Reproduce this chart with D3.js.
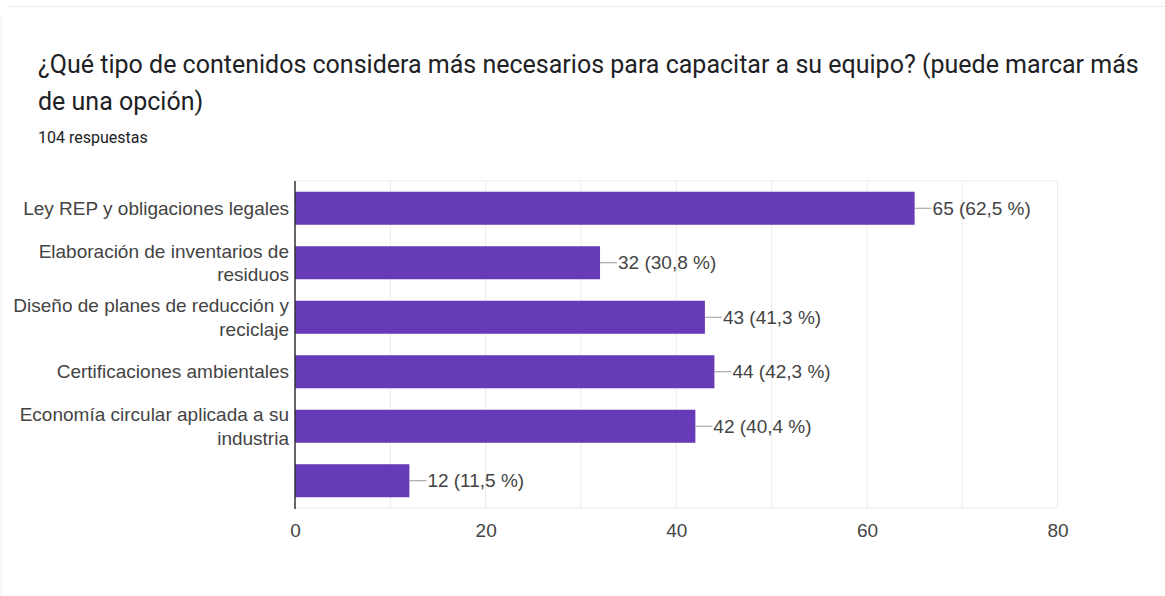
<!DOCTYPE html>
<html>
<head>
<meta charset="utf-8">
<script src="https://cdn.jsdelivr.net/npm/d3@7"></script>
<style>
  html, body { margin: 0; padding: 0; background: #fff; }
  svg { display: block; }
</style>
</head>
<body>
<svg id="chart" width="1165" height="596"></svg>
<script>
// Survey question, answer options and response counts
const title = [
  "¿Qué tipo de contenidos considera más necesarios para capacitar a su equipo? (puede marcar más",
  "de una opción)"
];
const responsesLabel = "104 respuestas";
const categories = [
  "Ley REP y obligaciones legales",
  "Elaboración de inventarios de residuos",
  "Diseño de planes de reducción y reciclaje",
  "Certificaciones ambientales",
  "Economía circular aplicada a su industria",
  ""
];
const counts = [65, 32, 43, 44, 42, 12];
const percents = [62.5, 30.8, 41.3, 42.3, 40.4, 11.5];
const xTicks = [0, 20, 40, 60, 80];
const xGrid = [10, 20, 30, 40, 50, 60, 70, 80];

const svg = d3.select("#chart");
const labelFont = "'Liberation Sans', Arial, sans-serif";

// Card edges
svg.append("line").attr("x1", 8).attr("x2", 1165).attr("y1", 6.5).attr("y2", 6.5)
  .attr("stroke", "#ececec").attr("stroke-width", 1);
svg.append("line").attr("x1", 1).attr("x2", 1).attr("y1", 16).attr("y2", 596)
  .attr("stroke", "#f1f1f1").attr("stroke-width", 1);

// Title and response count
const titleG = svg.append("g").attr("font-family", "Roboto, sans-serif").attr("fill", "#202124");
titleG.selectAll("text").data(title).join("text")
  .attr("x", 38).attr("y", (d, i) => 72.5 + i * 37)
  .attr("font-size", 25).text(d => d);
svg.append("text").attr("x", 38).attr("y", 142.5)
  .attr("font-family", "Roboto, sans-serif").attr("font-size", 16)
  .attr("fill", "#202124").text(responsesLabel);

// Scales
const x = d3.scaleLinear().domain([0, 80]).range([295, 1057.6]);
const y = d3.scaleBand().domain(d3.range(categories.length))
  .range([181, 508]).paddingInner(0.394).paddingOuter(0.197);

// Gridlines and frame
const grid = svg.append("g");
grid.selectAll("line.v").data(xGrid).join("line").attr("class", "v")
  .attr("x1", d => x(d)).attr("x2", d => x(d)).attr("y1", 181).attr("y2", 508)
  .attr("stroke", "#ebebeb").attr("stroke-width", 1);
grid.append("line").attr("x1", 295).attr("x2", x(80)).attr("y1", 181).attr("y2", 181)
  .attr("stroke", "#ebebeb");
grid.append("line").attr("x1", 295).attr("x2", x(80)).attr("y1", 508).attr("y2", 508)
  .attr("stroke", "#ebebeb");

// Bars
svg.append("g").selectAll("rect").data(counts).join("rect")
  .attr("x", x(0)).attr("y", (d, i) => y(i))
  .attr("width", d => x(d) - x(0)).attr("height", y.bandwidth())
  .attr("fill", "#673ab7");

// Value annotations with leader lines
const ann = svg.append("g").attr("font-family", labelFont).attr("font-size", 19);
counts.forEach((v, i) => {
  const cy = y(i) + y.bandwidth() / 2;
  ann.append("line").attr("x1", x(v)).attr("x2", x(v) + 17)
    .attr("y1", cy).attr("y2", cy).attr("stroke", "#999").attr("stroke-width", 1);
  ann.append("text").attr("x", x(v) + 18).attr("y", cy).attr("dy", "0.35em")
    .attr("fill", "#444")
    .text(`${v} (${String(percents[i]).replace(".", ",")} %)`);
});

// Category axis labels, wrapped to fit the left margin
const catG = svg.append("g").attr("font-family", labelFont).attr("font-size", 19)
  .attr("fill", "#444").attr("text-anchor", "end");
const maxW = 282, lineH = 23.5;
categories.forEach((c, i) => {
  if (!c) return;
  const cy = y(i) + y.bandwidth() / 2;
  const t = catG.append("text").attr("x", 289);
  const words = c.split(" ");
  const lines = [];
  let cur = [];
  const probe = t.append("tspan");
  words.forEach(w => {
    const trial = cur.concat(w).join(" ");
    probe.text(trial);
    if (probe.node().getComputedTextLength() > maxW && cur.length) {
      lines.push(cur.join(" "));
      cur = [w];
    } else {
      cur.push(w);
    }
  });
  lines.push(cur.join(" "));
  probe.remove();
  const y0 = cy - (lines.length - 1) * lineH / 2;
  lines.forEach((l, k) => {
    t.append("tspan").attr("x", 289).attr("y", y0 + k * lineH).attr("dy", "0.35em").text(l);
  });
});

// Baseline axis
svg.append("line").attr("x1", x(0)).attr("x2", x(0)).attr("y1", 181).attr("y2", 509)
  .attr("stroke", "#333").attr("stroke-width", 1.5);

// X axis tick labels
const xAxis = d3.axisBottom(x).tickValues(xTicks).tickSize(0).tickPadding(0);
const xg = svg.append("g").attr("transform", "translate(0,530)").call(xAxis);
xg.select(".domain").remove();
xg.selectAll("text").attr("font-family", labelFont).attr("font-size", 19)
  .attr("fill", "#444").attr("dy", "0.35em").attr("y", 0);
</script>
</body>
</html>
